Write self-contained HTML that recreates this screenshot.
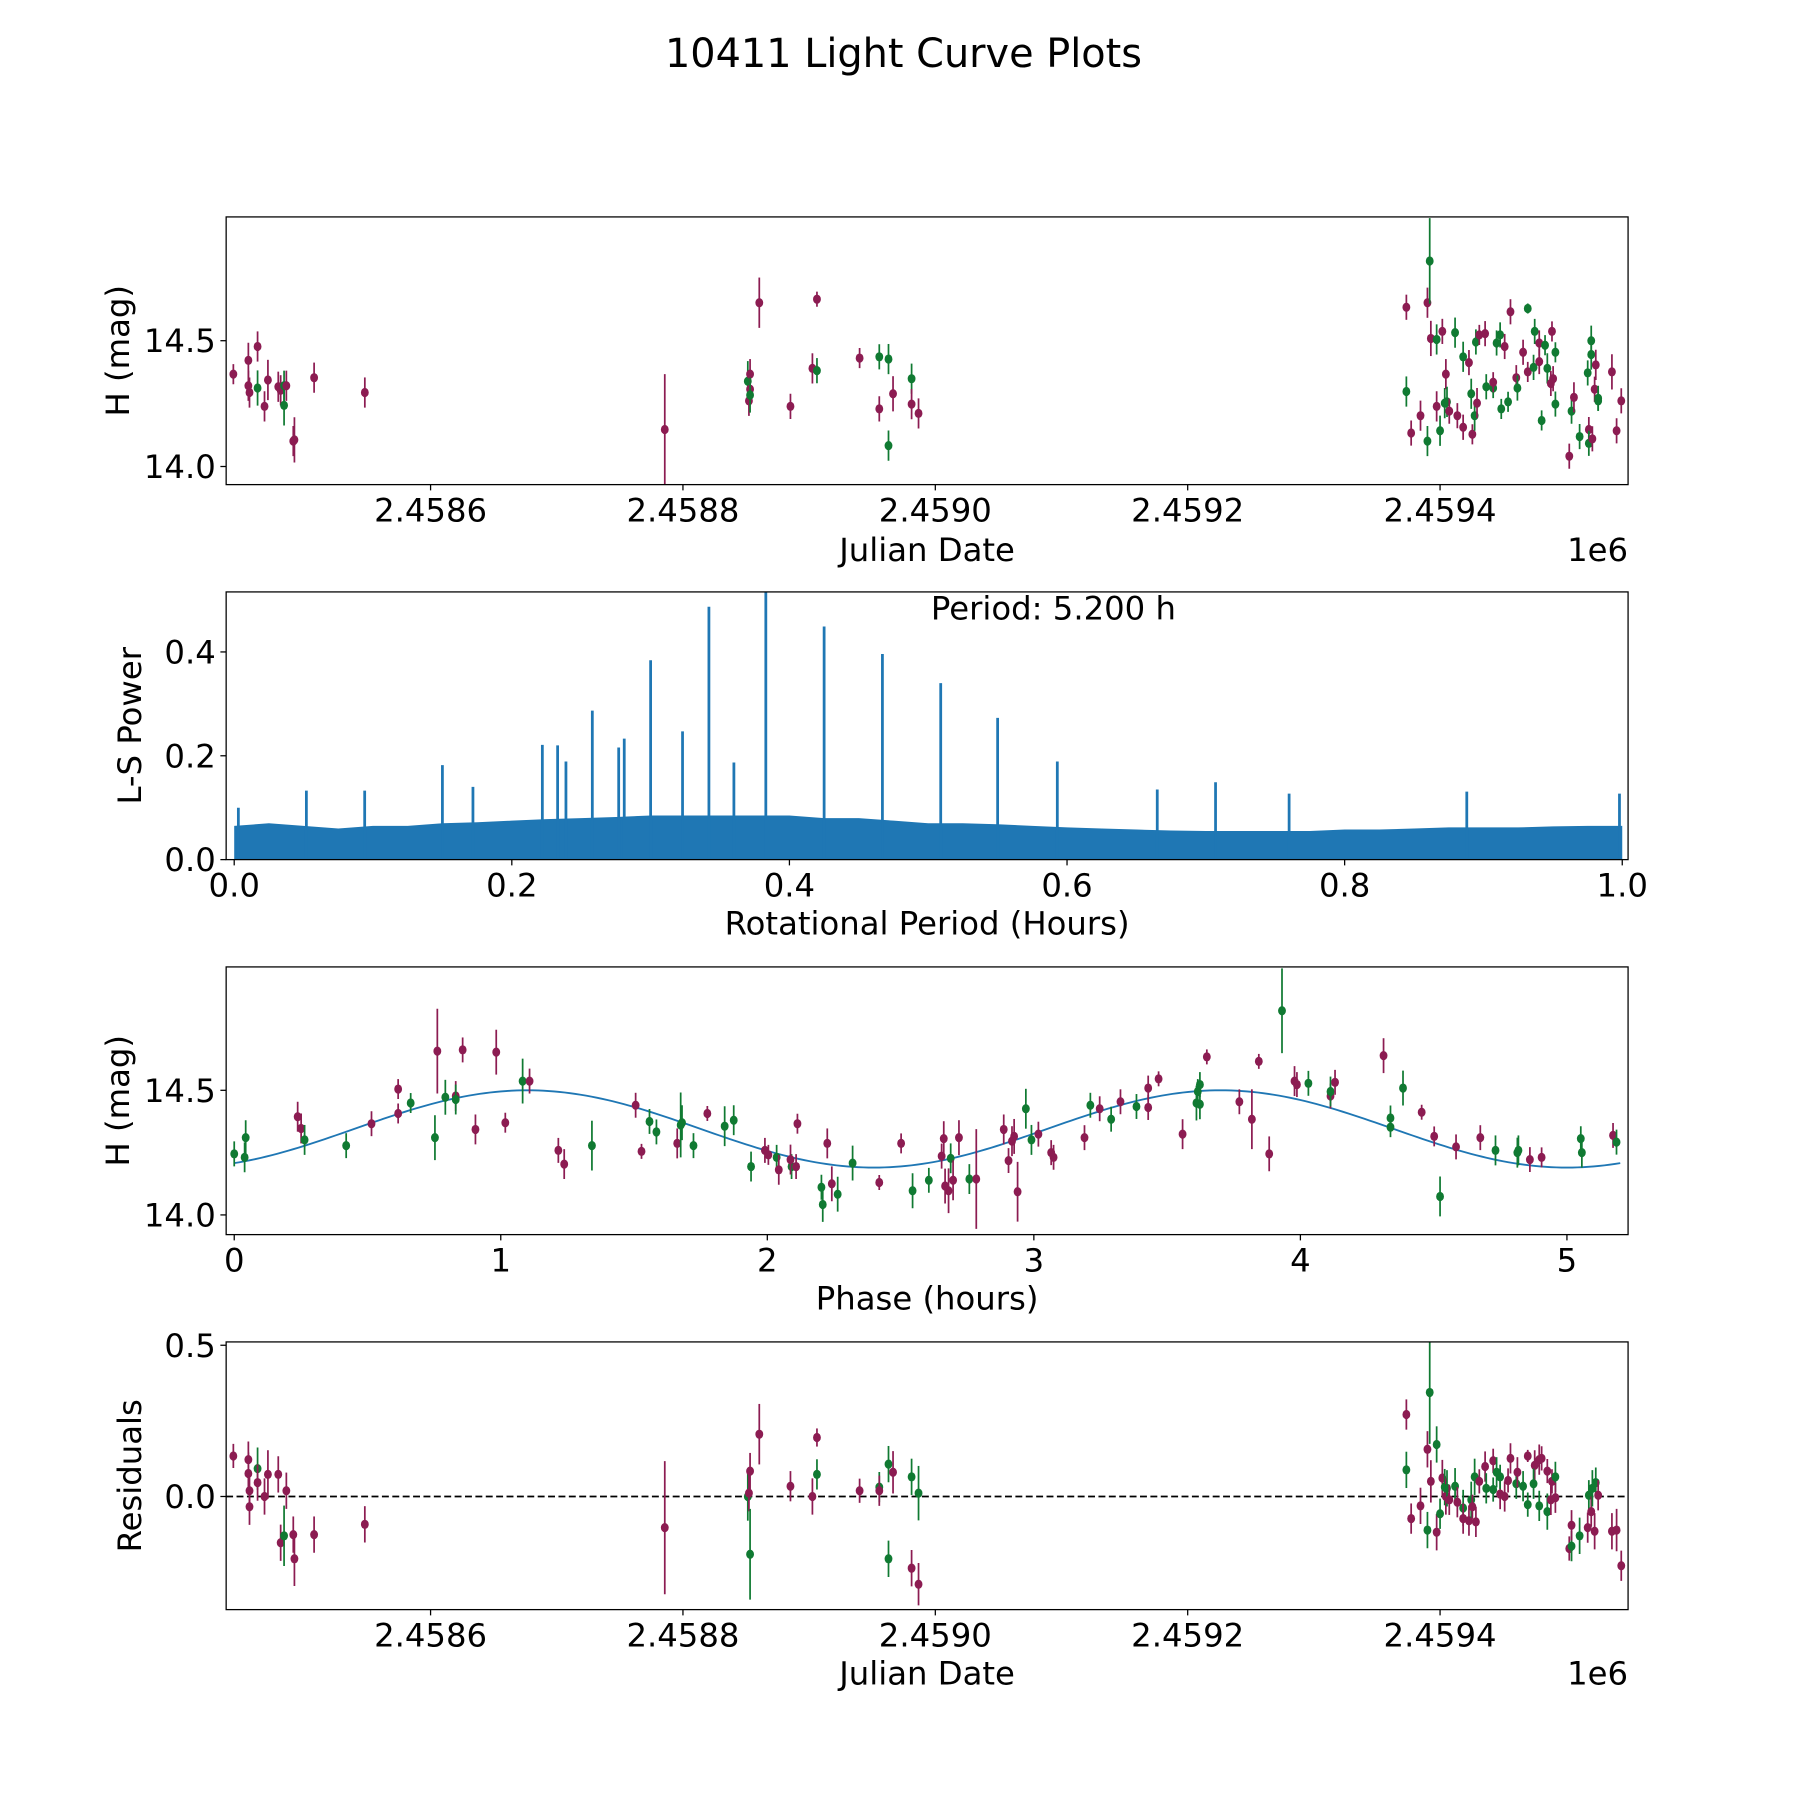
<!DOCTYPE html>
<html><head><meta charset="utf-8"><title>10411 Light Curve Plots</title>
<style>
html,body{margin:0;padding:0;background:#fff;}
svg{display:block;}
text{font-family:"DejaVu Sans","Liberation Sans",sans-serif;fill:#000;}
</style></head>
<body>
<svg id="fig" width="1800" height="1800" viewBox="0 0 1560 1560" xmlns="http://www.w3.org/2000/svg">
<rect x="0" y="0" width="1560" height="1560" fill="#fff"/>
<text x="783" y="58" font-size="34.5" text-anchor="middle">10411 Light Curve Plots</text>
</svg>
<script>
// ---------- Panel 1: raw light curve (JD - 2458000, days) ----------
const p1Day=[443.7,455.6,455.6,456.5,462.9,462.9,468.4,471.1,479.3,481.2,483.9,483.9,485.7,491.2,492.1,507.7,547.9,785.6,851.4,852.3,853.2,853.2,853.2,860.5,885.2,902.6,906.2,906.2,940,955.6,955.6,962.9,962.9,966.5,981.2,981.2,986.7,
1373.3,1373.3,1377.1,1384.5,1390.0,1390.0,1391.8,1392.7,1397.3,1397.3,1400.0,1401.8,1403.7,1404.6,1405.5,1407.3,1411.9,1413.7,1418.3,1418.3,1422.9,1424.7,1425.6,1427.4,1428.4,1429.3,1431.1,1435.7,1436.6,1442.1,1442.1,1444.8,1447.6,1448.5,1451.2,1453.9,1455.8,1460.4,1461.3,1465.8,1469.5,1469.5,1474.1,1475.0,1478.6,1478.6,1480.5,1483.2,1485.0,1487.8,1488.7,1489.6,1491.4,1491.4,1502.4,1504.2,1506.1,1510.6,1517.0,1517.9,1517.9,1519.8,1519.8,1520.7,1522.5,1523.4,1525.3,1525.3,1536.2,1539.9,1543.6];
const p1Mag=[14.367,14.422,14.321,14.294,14.477,14.312,14.239,14.344,14.317,14.303,14.321,14.243,14.321,14.101,14.106,14.353,14.294,14.147,14.339,14.261,14.307,14.367,14.284,14.651,14.239,14.39,14.665,14.381,14.431,14.229,14.436,14.427,14.083,14.289,14.349,14.248,14.211,
14.633,14.298,14.133,14.202,14.101,14.651,14.817,14.509,14.505,14.239,14.142,14.537,14.252,14.367,14.257,14.22,14.532,14.202,14.436,14.156,14.413,14.289,14.128,14.202,14.495,14.252,14.523,14.528,14.317,14.312,14.335,14.491,14.523,14.229,14.477,14.257,14.615,14.353,14.312,14.454,14.628,14.376,14.394,14.537,14.417,14.491,14.183,14.482,14.39,14.33,14.537,14.349,14.248,14.454,14.041,14.22,14.275,14.119,14.372,14.147,14.092,14.5,14.445,14.11,14.307,14.404,14.271,14.261,14.376,14.142,14.261];
const p1Col=["m","m","m","m","m","g","m","m","m","m","g","g","m","m","m","m","m","m","g","m","m","m","g","m","m","m","m","g","m","m","g","g","g","m","g","m","m",
"m","g","m","m","g","m","g","m","g","m","g","m","g","m","g","m","g","m","g","m","m","g","m","g","g","m","m","m","g","g","m","g","g","g","m","g","m","m","g","m","g","m","g","g","m","m","g","g","g","m","m","m","g","g","m","g","m","g","g","m","g","g","g","m","m","m","g","g","m","m","m","m"];
const p1Err=[0.04,0.07,0.06,0.06,0.06,0.07,0.06,0.08,0.06,0.06,0.06,0.08,0.06,0.06,0.09,0.06,0.06,0.22,0.08,0.06,0.06,0.06,0.07,0.1,0.05,0.06,0.03,0.05,0.04,0.05,0.05,0.06,0.06,0.07,0.06,0.06,0.06,
0.05,0.06,0.05,0.06,0.06,0.06,0.17,0.07,0.06,0.06,0.06,0.05,0.06,0.06,0.06,0.05,0.06,0.05,0.06,0.05,0.05,0.06,0.04,0.06,0.05,0.06,0.04,0.05,0.05,0.04,0.04,0.05,0.05,0.04,0.05,0.04,0.05,0.05,0.05,0.05,0.02,0.04,0.05,0.05,0.05,0.05,0.04,0.04,0.06,0.05,0.04,0.05,0.05,0.04,0.05,0.05,0.06,0.05,0.05,0.05,0.05,0.06,0.06,0.05,0.05,0.06,0.05,0.04,0.07,0.05,0.05];
const p1XTicks=[600,800,1000,1200,1400];
const p1XTickLabels=["2.4586","2.4588","2.4590","2.4592","2.4594"];
const p1YTicks=[14.0,14.5];
const p1YTickLabels=["14.0","14.5"];

// ---------- Panel 2: periodogram ----------
const peakPeriod=[0.003,0.052,0.094,0.150,0.172,0.222,0.233,0.239,0.258,0.277,0.281,0.300,0.323,0.342,0.360,0.383,0.425,0.467,0.509,0.550,0.593,0.665,0.707,0.760,0.888,0.998];
const peakPower=[0.1,0.133,0.133,0.182,0.14,0.221,0.22,0.189,0.287,0.216,0.233,0.384,0.247,0.487,0.187,0.53,0.449,0.396,0.340,0.273,0.189,0.135,0.149,0.127,0.131,0.127];
const noisePeriod=[0,0.025,0.05,0.075,0.1,0.125,0.15,0.175,0.2,0.225,0.25,0.275,0.3,0.325,0.35,0.375,0.4,0.425,0.45,0.475,0.5,0.525,0.55,0.575,0.6,0.625,0.65,0.675,0.7,0.725,0.75,0.775,0.8,0.825,0.85,0.875,0.9,0.925,0.95,0.975,1.0];
const noiseTop=[0.065,0.07,0.065,0.06,0.065,0.065,0.07,0.072,0.075,0.078,0.08,0.082,0.085,0.085,0.085,0.085,0.085,0.08,0.08,0.075,0.07,0.07,0.068,0.065,0.062,0.06,0.058,0.056,0.055,0.055,0.055,0.055,0.058,0.058,0.06,0.062,0.062,0.062,0.064,0.065,0.065];
const p2XTicks=[0,0.2,0.4,0.6,0.8,1.0];
const p2XTickLabels=["0.0","0.2","0.4","0.6","0.8","1.0"];
const p2YTicks=[0,0.2,0.4];
const p2YTickLabels=["0.0","0.2","0.4"];

// ---------- Panel 3: phased ----------
const ph=[0.000,0.039,0.043,0.238,0.251,0.264,0.420,0.515,0.615,0.615,0.662,0.762,0.753,0.792,0.831,0.831,0.857,0.905,0.983,1.017,1.082,1.108,1.216,1.238,1.342,1.506,1.528,1.558,1.584,1.662,1.680,1.675,1.723,1.775,1.840,1.874,1.939,1.991,2.004,2.035,2.043,2.091,2.087,2.113,2.108,2.203,2.208,2.225,2.242,2.264,2.320,2.420,2.502,2.545,2.606,2.654,2.662,2.667,2.680,2.688,2.697,2.719,2.758,2.784,2.887,2.905,2.918,2.926,2.939,2.970,2.991,3.017,3.065,3.074,3.190,3.212,3.247,3.290,3.325,3.385,3.429,3.429,3.468,3.558,3.610,3.615,3.623,3.623,3.649,3.771,3.818,3.844,3.883,3.931,3.978,3.987,4.030,4.113,4.113,4.130,4.312,4.338,4.338,4.385,4.455,4.502,4.524,4.584,4.675,4.732,4.814,4.818,4.861,4.905,5.052,5.056,5.173,5.186];
const phMag=[14.245,14.231,14.310,14.394,14.347,14.301,14.278,14.366,14.505,14.407,14.449,14.657,14.310,14.472,14.477,14.463,14.662,14.343,14.653,14.370,14.537,14.537,14.259,14.204,14.278,14.440,14.255,14.375,14.333,14.287,14.370,14.361,14.278,14.407,14.356,14.380,14.194,14.259,14.241,14.231,14.181,14.194,14.222,14.366,14.194,14.111,14.042,14.287,14.125,14.083,14.208,14.130,14.287,14.097,14.139,14.236,14.306,14.116,14.097,14.227,14.139,14.310,14.144,14.144,14.343,14.218,14.296,14.315,14.093,14.426,14.301,14.324,14.250,14.231,14.310,14.440,14.426,14.384,14.454,14.435,14.509,14.431,14.546,14.324,14.449,14.495,14.523,14.444,14.634,14.454,14.384,14.616,14.245,14.819,14.537,14.523,14.528,14.477,14.495,14.532,14.639,14.352,14.389,14.509,14.412,14.315,14.074,14.273,14.310,14.259,14.250,14.259,14.222,14.231,14.306,14.250,14.319,14.292];
const phCol=["g","g","g","m","m","g","g","m","m","m","g","m","g","g","m","g","m","m","m","m","g","m","m","m","g","m","m","g","g","m","g","g","g","m","g","g","g","m","m","g","m","g","m","m","m","g","g","m","m","g","g","m","m","g","g","m","m","m","m","g","m","m","g","m","m","m","m","m","m","g","g","m","m","m","m","g","m","g","m","g","m","m","m","m","g","g","g","g","m","m","m","m","m","g","m","m","g","m","g","m","m","g","g","g","m","m","g","m","m","g","g","g","m","m","g","g","m","g"];
const phErr=[0.05,0.06,0.07,0.06,0.06,0.06,0.05,0.05,0.04,0.04,0.04,0.17,0.09,0.07,0.06,0.06,0.05,0.06,0.09,0.04,0.09,0.05,0.05,0.06,0.1,0.05,0.03,0.05,0.05,0.06,0.07,0.13,0.05,0.03,0.08,0.06,0.06,0.05,0.04,0.05,0.06,0.05,0.06,0.04,0.05,0.05,0.07,0.06,0.07,0.07,0.07,0.03,0.04,0.07,0.05,0.05,0.07,0.07,0.09,0.06,0.08,0.07,0.06,0.2,0.06,0.05,0.06,0.07,0.12,0.08,0.06,0.05,0.05,0.05,0.05,0.05,0.05,0.05,0.05,0.05,0.05,0.05,0.03,0.06,0.07,0.05,0.05,0.06,0.03,0.05,0.12,0.03,0.07,0.17,0.06,0.05,0.05,0.05,0.06,0.05,0.07,0.04,0.05,0.07,0.03,0.04,0.08,0.05,0.05,0.06,0.06,0.06,0.05,0.04,0.05,0.06,0.05,0.05];
const p3XTicks=[0,1,2,3,4,5];
const p3XTickLabels=["0","1","2","3","4","5"];
const p3YTicks=[14.0,14.5];
const p3YTickLabels=["14.0","14.5"];
const modelMean=14.345, modelAmp=0.155, modelPeakPhase=1.1, modelHalfPeriod=2.6;

// ---------- Panel 4: residuals ----------
const rDay=[443.7,455.6,455.6,456.5,456.5,462.9,462.9,468.4,471.1,479.3,481.2,483.9,485.7,491.2,492.1,507.7,547.9,785.6,851.4,852.3,853.2,853.2,860.5,885.2,902.6,906.2,906.2,940,955.6,955.6,962.9,962.9,966.5,981.2,981.2,986.7,986.7,
1373.3,1373.3,1377.1,1384.5,1390.0,1390.0,1391.8,1392.7,1397.3,1397.3,1401.8,1400.0,1403.7,1404.6,1405.5,1407.3,1411.9,1413.7,1418.3,1418.3,1422.9,1424.7,1425.6,1427.4,1428.4,1431.1,1435.7,1436.6,1442.1,1442.1,1444.8,1447.6,1447.6,1451.2,1453.9,1455.8,1460.4,1461.3,1465.8,1469.5,1469.5,1475.0,1474.1,1478.6,1478.6,1480.5,1485.0,1485.0,1487.8,1488.7,1491.4,1491.4,1502.4,1504.2,1504.2,1510.6,1517.0,1517.9,1519.8,1520.7,1522.5,1523.4,1525.3,1536.2,1539.9,1543.6];
const rVal=[0.134,0.076,0.122,-0.034,0.019,0.092,0.046,0,0.073,0.073,-0.153,-0.130,0.019,-0.126,-0.206,-0.126,-0.092,-0.103,0,0.011,0.084,-0.191,0.206,0.034,0,0.195,0.073,0.019,0.031,0.019,0.107,-0.206,0.080,-0.237,0.065,0.011,-0.290,
0.271,0.088,-0.073,-0.031,-0.111,0.156,0.344,0.050,0.172,-0.118,0.061,-0.057,0.031,0,0.027,-0.011,0.034,-0.019,-0.038,-0.073,-0.080,-0.011,-0.034,0.065,-0.084,0.050,0.099,0.027,0.118,0.023,0.080,0.008,0.065,0,0.053,0.126,0.042,0.080,0.034,0.134,-0.027,0.103,0.042,0.122,-0.031,0.126,0.084,-0.050,-0.011,0.050,0.065,-0.004,-0.172,-0.164,-0.095,-0.130,-0.103,0.004,-0.050,0.027,-0.115,0.046,0.004,-0.115,-0.111,-0.229];
const rCol=["m","m","m","m","m","g","m","m","m","m","m","g","m","m","m","m","m","m","g","m","m","g","m","m","m","m","g","m","g","m","g","g","m","m","g","g","m",
"m","g","m","m","g","m","g","m","g","m","m","g","g","m","g","m","g","m","g","m","m","g","m","g","m","m","m","g","m","g","g","m","g","m","m","m","g","m","g","m","g","m","g","m","g","m","m","g","m","m","g","m","m","g","m","g","m","g","m","g","m","g","m","m","m","m"];
const rErr=[0.04,0.07,0.06,0.06,0.06,0.07,0.06,0.06,0.08,0.06,0.06,0.1,0.06,0.06,0.09,0.06,0.06,0.22,0.08,0.06,0.06,0.15,0.1,0.05,0.06,0.03,0.05,0.04,0.05,0.05,0.06,0.06,0.07,0.06,0.06,0.09,0.07,
0.05,0.06,0.05,0.06,0.06,0.06,0.17,0.07,0.06,0.06,0.06,0.05,0.06,0.06,0.06,0.05,0.06,0.05,0.06,0.05,0.05,0.06,0.04,0.06,0.05,0.04,0.05,0.05,0.04,0.04,0.05,0.05,0.04,0.05,0.04,0.05,0.05,0.05,0.05,0.02,0.04,0.05,0.05,0.05,0.05,0.04,0.04,0.06,0.05,0.04,0.05,0.05,0.04,0.05,0.05,0.06,0.05,0.05,0.05,0.06,0.06,0.05,0.05,0.06,0.07,0.05,0.05];
const p4YTicks=[0.0,0.5];
const p4YTickLabels=["0.0","0.5"];

const NS="http://www.w3.org/2000/svg";
const fig=document.getElementById('fig');
const COL={m:"#8c1c52",g:"#107a32"};
function mk(tag,attrs,parent){const e=document.createElementNS(NS,tag);for(const k in attrs)e.setAttribute(k,attrs[k]);(parent||fig).appendChild(e);return e;}
function lin(d0,d1,r0,r1){return v=>r0+(v-d0)*(r1-r0)/(d1-d0);}

function axes(id,box,xd,yd){
  const g=mk('g',{});
  
  
  const cp=mk('clipPath',{id:id+'-clip'},g);
  mk('rect',{x:box.x,y:box.y,width:box.w,height:box.h},cp);
  const plot=mk('g',{'clip-path':'url(#'+id+'-clip)'},g);
  
  
  return {g,plot,sx:lin(xd[0],xd[1],box.x,box.x+box.w),sy:lin(yd[0],yd[1],box.y+box.h,box.y),box};
}
function frame(A,xt,xl,yt,yl,xlabel,ylabel,ylx,xlabY){
  const b=A.box;
  const f=mk('rect',{x:b.x,y:b.y,width:b.w,height:b.h,fill:'none',stroke:'#000','stroke-width':1.1},A.g);
  
  
  xt.forEach((v,i)=>{const x=A.sx(v);
    mk('line',{x1:x,x2:x,y1:b.y+b.h,y2:b.y+b.h+5,stroke:'#000','stroke-width':1.1},A.g);
    const t=mk('text',{x:x,y:b.y+b.h+32,'font-size':28,'text-anchor':'middle'},A.g);t.textContent=xl[i];
    
    });
  yt.forEach((v,i)=>{const y=A.sy(v);
    mk('line',{x1:b.x-5,x2:b.x,y1:y,y2:y,stroke:'#000','stroke-width':1.1},A.g);
    const t=mk('text',{x:b.x-9,y:y+10,'font-size':28,'text-anchor':'end'},A.g);t.textContent=yl[i];
    
    });
  const xlab=mk('text',{x:b.x+b.w/2,y:xlabY,'font-size':28,'text-anchor':'middle'},A.g);xlab.textContent=xlabel;
  
  
  const cy=b.y+b.h/2;
  const ylab=mk('text',{x:ylx,y:cy,'font-size':28,'text-anchor':'middle',transform:'rotate(-90 '+ylx+' '+cy+')'},A.g);ylab.textContent=ylabel;
  
  
}
function errPoints(A,xs,ys,es,cs){
  xs.forEach((xv,i)=>{const x=A.sx(xv),c=COL[cs[i]];
    const l=mk('line',{x1:x,x2:x,y1:A.sy(ys[i]-es[i]),y2:A.sy(ys[i]+es[i]),stroke:c,'stroke-width':1.5},A.plot);
    
    
    const p=mk('ellipse',{cx:x,cy:A.sy(ys[i]),rx:3.4,ry:4,fill:c},A.plot);
    
    });
}
function exp1e6(A,y){const t=mk('text',{x:A.box.x+A.box.w,y:y,'font-size':28,'text-anchor':'end'},A.g);t.textContent='1e6';
  
  }

// Panel 1
const A1=axes('raw-lightcurve',{x:196,y:188,w:1215,h:232},[438,1549],[13.928,14.992]);
errPoints(A1,p1Day,p1Mag,p1Err,p1Col);
frame(A1,p1XTicks,p1XTickLabels,p1YTicks,p1YTickLabels,'Julian Date','H (mag)',112,486);
exp1e6(A1,486);

// Panel 2
const A2=axes('periodogram',{x:196,y:513,w:1215,h:232},[-0.0058,1.0042],[0,0.5156]);
let pts=noisePeriod.map((p,i)=>A2.sx(p)+','+A2.sy(noiseTop[i]));
const band=mk('polygon',{points:A2.sx(0)+','+A2.sy(0)+' '+pts.join(' ')+' '+A2.sx(1)+','+A2.sy(0),fill:'#1f77b4'},A2.plot);


peakPeriod.forEach((p,i)=>{const x=A2.sx(p);
  const l=mk('line',{x1:x,x2:x,y1:A2.sy(0),y2:A2.sy(peakPower[i]),stroke:'#1f77b4','stroke-width':2.4},A2.plot);
  
  });
frame(A2,p2XTicks,p2XTickLabels,p2YTicks,p2YTickLabels,'Rotational Period (Hours)','L-S Power',122,810);
const pt=mk('text',{x:913,y:537,'font-size':28,'text-anchor':'middle'},A2.g);pt.textContent='Period: 5.200 h';



// Panel 3
const A3=axes('phased-lightcurve',{x:196,y:838,w:1215,h:232},[-0.0303,5.2294],[13.921,14.995]);
let cpts=[];for(let i=0;i<=260;i++){const t=i*5.2/260;cpts.push(A3.sx(t)+','+A3.sy(modelMean+modelAmp*Math.cos(2*Math.PI*(t-modelPeakPhase)/modelHalfPeriod)));}
const mc=mk('polyline',{points:cpts.join(' '),fill:'none',stroke:'#1f77b4','stroke-width':1.6},A3.plot);


errPoints(A3,ph,phMag,phErr,phCol);
frame(A3,p3XTicks,p3XTickLabels,p3YTicks,p3YTickLabels,'Phase (hours)','H (mag)',112,1135);

// Panel 4
const A4=axes('residuals',{x:196,y:1163,w:1215,h:232},[438,1549],[-0.374,0.511]);
const zl=mk('line',{x1:196,x2:1411,y1:A4.sy(0),y2:A4.sy(0),stroke:'#000','stroke-width':1.6,'stroke-dasharray':'6,3'},A4.plot);


errPoints(A4,rDay,rVal,rErr,rCol);
frame(A4,p1XTicks,p1XTickLabels,p4YTicks,p4YTickLabels,'Julian Date','Residuals',122,1460);
exp1e6(A4,1460);
</script>
</body></html>
